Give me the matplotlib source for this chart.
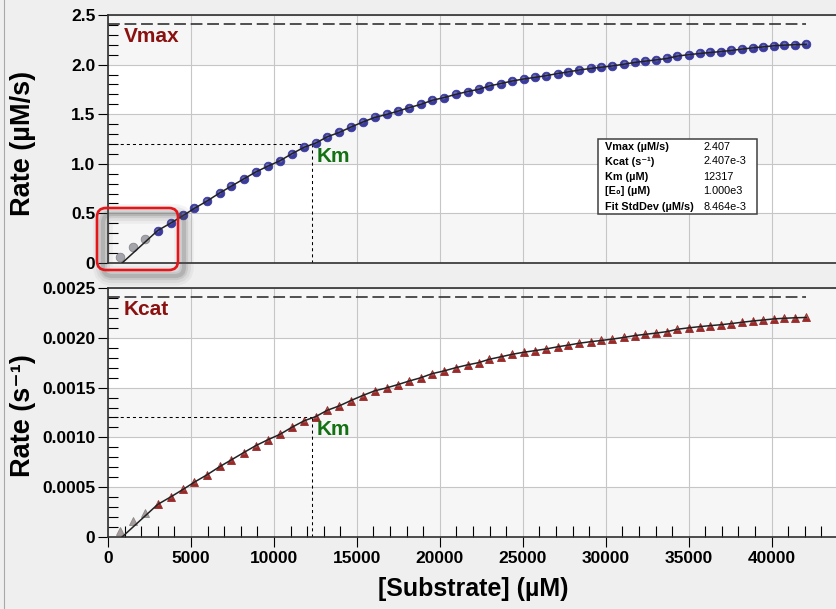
import matplotlib
matplotlib.use("Agg")
import matplotlib.pyplot as plt
from matplotlib.patches import FancyBboxPatch, Rectangle
from matplotlib.lines import Line2D
from matplotlib.ticker import MultipleLocator, FuncFormatter
from matplotlib.transforms import IdentityTransform, offset_copy

plt.rcParams['font.family'] = ['Liberation Sans', 'DejaVu Sans']
plt.rcParams['font.weight'] = 'bold'
plt.rcParams['axes.labelweight'] = 'bold'
plt.rcParams['lines.scale_dashes'] = False

# Initial rate data (substrate in uM, rate in uM/s)
substrate = [723, 1488, 2229, 2994, 3777, 4536, 5199, 5964, 6747, 7410, 8175,
             8916, 9620, 10380, 11066, 11825, 12512, 13211, 13934, 14639, 15343,
             16066, 16789, 17488, 18151, 18855, 19536, 20241, 20964, 21669,
             22349, 22970, 23675, 24380, 25060, 25723, 26404, 27108, 27729,
             28416, 29096, 29717, 30404, 31102, 31747, 32392, 33054, 33693,
             34319, 35000, 35663, 36283, 36928, 37572, 38211, 38873, 39500,
             40139, 40765, 41404, 42090]
rate = [0.064, 0.159, 0.243, 0.327, 0.402, 0.479, 0.550, 0.624, 0.708, 0.772,
        0.847, 0.918, 0.975, 1.032, 1.100, 1.167, 1.208, 1.272, 1.316, 1.370,
        1.420, 1.467, 1.497, 1.531, 1.566, 1.599, 1.640, 1.667, 1.700, 1.728,
        1.751, 1.784, 1.809, 1.835, 1.855, 1.871, 1.888, 1.910, 1.926, 1.946,
        1.961, 1.973, 1.987, 2.004, 2.022, 2.035, 2.048, 2.062, 2.086, 2.100,
        2.112, 2.122, 2.131, 2.143, 2.156, 2.169, 2.179, 2.190, 2.196, 2.201,
        2.204]
n_excluded = 3          # first points left out of the fit
fit_start = 850         # substrate where the fitted curve crosses zero

# Fit results
vmax = 2.407
km = 12317
enzyme = 1000.0
kcat = vmax / enzyme
stat_names = ['Vmax (µM/s)', 'Kcat (s⁻¹)', 'Km (µM)', '[E₀] (µM)', 'Fit StdDev (µM/s)']
stat_values = ['2.407', '2.407e-3', '12317', '1.000e3', '8.464e-3']

W, H = 836, 609
fig = plt.figure(figsize=(W / 100, H / 100), dpi=100, facecolor='#efefef')


def fx(px):
    return px / W


def fy(py):
    return 1 - py / H


ax1 = fig.add_axes([fx(108), fy(263), 730 / W, 248 / H])
ax2 = fig.add_axes([fx(108), fy(537), 730 / W, 249 / H])


def draw_panel(ax, yvals, ylim_top, ystep, cap, cap_label, marker, color, grey):
    ax.set_facecolor('white')
    ax.set_xlim(0, 44000)
    ax.set_ylim(0, ylim_top)
    # alternating shaded bands
    for i in range(5):
        if i % 2 == 0:
            ax.axhspan(i * ystep, (i + 1) * ystep, color='#f6f6f6', zorder=0, lw=0)
    ax.set_axisbelow(True)
    ax.grid(True, which='major', color='#c6c6c6', lw=0.8)
    ax.xaxis.set_major_locator(MultipleLocator(5000))
    ax.xaxis.set_minor_locator(MultipleLocator(1000))
    ax.yaxis.set_major_locator(MultipleLocator(ystep))
    ax.yaxis.set_minor_locator(MultipleLocator(ystep / 5))
    ax.tick_params(axis='y', which='major', direction='out', length=7, width=0.8,
                   pad=2, labelsize=12.5)
    ax.tick_params(axis='y', which='minor', direction='in', length=7.5, width=0.8)
    ax.tick_params(axis='x', which='major', direction='out', length=7, width=0.8,
                   pad=3, labelsize=12.5)
    ax.tick_params(axis='x', which='minor', direction='in', length=8, width=0.8)
    for side in ['left', 'top', 'bottom']:
        ax.spines[side].set_color('#303030')
        ax.spines[side].set_linewidth(1.2)
    ax.spines['right'].set_visible(False)

    # saturation level and Km guides
    ax.plot([0, substrate[-1]], [cap, cap], color='#333333', lw=1.2,
            ls=(0, (8.5, 3.4)), zorder=2)
    ax.plot([0, km], [cap / 2, cap / 2], color='black', lw=0.75,
            ls=(0, (2.2, 2.2)), zorder=2)
    ax.plot([km, km], [0, cap / 2], color='black', lw=0.75,
            ls=(0, (2.2, 2.2)), zorder=2)
    ax.annotate(cap_label, (0, cap), xytext=(16, -3), textcoords='offset pixels',
                ha='left', va='top', color='#8b1111', fontsize=15, zorder=5)
    ax.annotate('Km', (km, cap / 2), xytext=(4, -3), textcoords='offset pixels',
                ha='left', va='top', color='#137013', fontsize=15, zorder=5)

    # measured points, excluded ones in grey
    ax.plot(substrate[:n_excluded], yvals[:n_excluded], ls='none', marker=marker,
            ms=6.2, mfc=grey, mec='#8a8a8a', mew=0.6, zorder=3)
    ax.plot(substrate[n_excluded:], yvals[n_excluded:], ls='none', marker=marker,
            ms=6.2, mfc=color, mec=color, mew=0.6, zorder=3)
    hl = offset_copy(ax.transData, fig=fig, x=-0.5, y=1.0, units='dots')
    ax.plot(substrate[n_excluded:], yvals[n_excluded:], ls='none', marker=marker,
            ms=2.8, mfc='white', mec='none', alpha=0.25, transform=hl, zorder=3)

    # fitted curve
    ax.plot([fit_start] + substrate[n_excluded:], [0] + yvals[n_excluded:],
            color='#222222', lw=1.1, zorder=4)


draw_panel(ax1, rate, 2.5, 0.5, vmax, 'Vmax', 'o', '#3b3b9e', '#a4a4ac')
turnover = [r / enzyme for r in rate]
draw_panel(ax2, turnover, 0.0025, 0.0005, kcat, 'Kcat', '^', '#982a2a', '#a89c9c')

ax1.tick_params(axis='x', which='both', bottom=False, labelbottom=False)
ax1.yaxis.set_major_formatter(FuncFormatter(lambda v, p: '0' if v == 0 else f'{v:.1f}'))
ax2.yaxis.set_major_formatter(FuncFormatter(lambda v, p: '0' if v == 0 else f'{v:.4f}'))

# axis titles
fig.text(fx(23), fy(143), 'Rate (µM/s)', rotation=90, ha='center', va='center',
         fontsize=19.5, weight='bold')
fig.text(fx(23), fy(416), 'Rate (s⁻¹)', rotation=90, ha='center', va='center',
         fontsize=19.5, weight='bold')
ax2.set_xlabel('[Substrate] (µM)', fontsize=18, labelpad=8)

# fit statistics box
fig.add_artist(Rectangle((fx(598), fy(214)), 159 / W, 75 / H, transform=fig.transFigure,
                         facecolor='white', edgecolor='#404040', lw=1.1, zorder=6))
for i, (name, val) in enumerate(zip(stat_names, stat_values)):
    yy = fy(146.5 + 15 * i)
    fig.text(fx(605), yy, name, ha='left', va='center', fontsize=7.8,
             weight='bold', zorder=7)
    fig.text(fx(703), yy, val, ha='left', va='center', fontsize=7.8,
             weight='normal', zorder=7)

# highlight around the excluded low-substrate points, with soft shadow
px = IdentityTransform()
bx, by, bw, bh = 97, H - 270, 81, 62
for lw, a in [(14, 0.06), (10, 0.08), (6, 0.12), (3, 0.18)]:
    fig.add_artist(FancyBboxPatch((bx + 6, by - 6), bw, bh,
                                  boxstyle='round,pad=0,rounding_size=9',
                                  transform=px, fill=False, edgecolor='#505050',
                                  lw=lw, alpha=a, zorder=8))
fig.add_artist(FancyBboxPatch((bx, by), bw, bh, boxstyle='round,pad=0,rounding_size=9',
                              transform=px, fill=False, edgecolor='#e5161a',
                              lw=1.9, zorder=9))

fig.add_artist(Line2D([fx(3.5), fx(3.5)], [0, 1], transform=fig.transFigure,
                      color='#a8a8a8', lw=0.8))

fig.savefig('out.png', dpi=100, facecolor=fig.get_facecolor())
